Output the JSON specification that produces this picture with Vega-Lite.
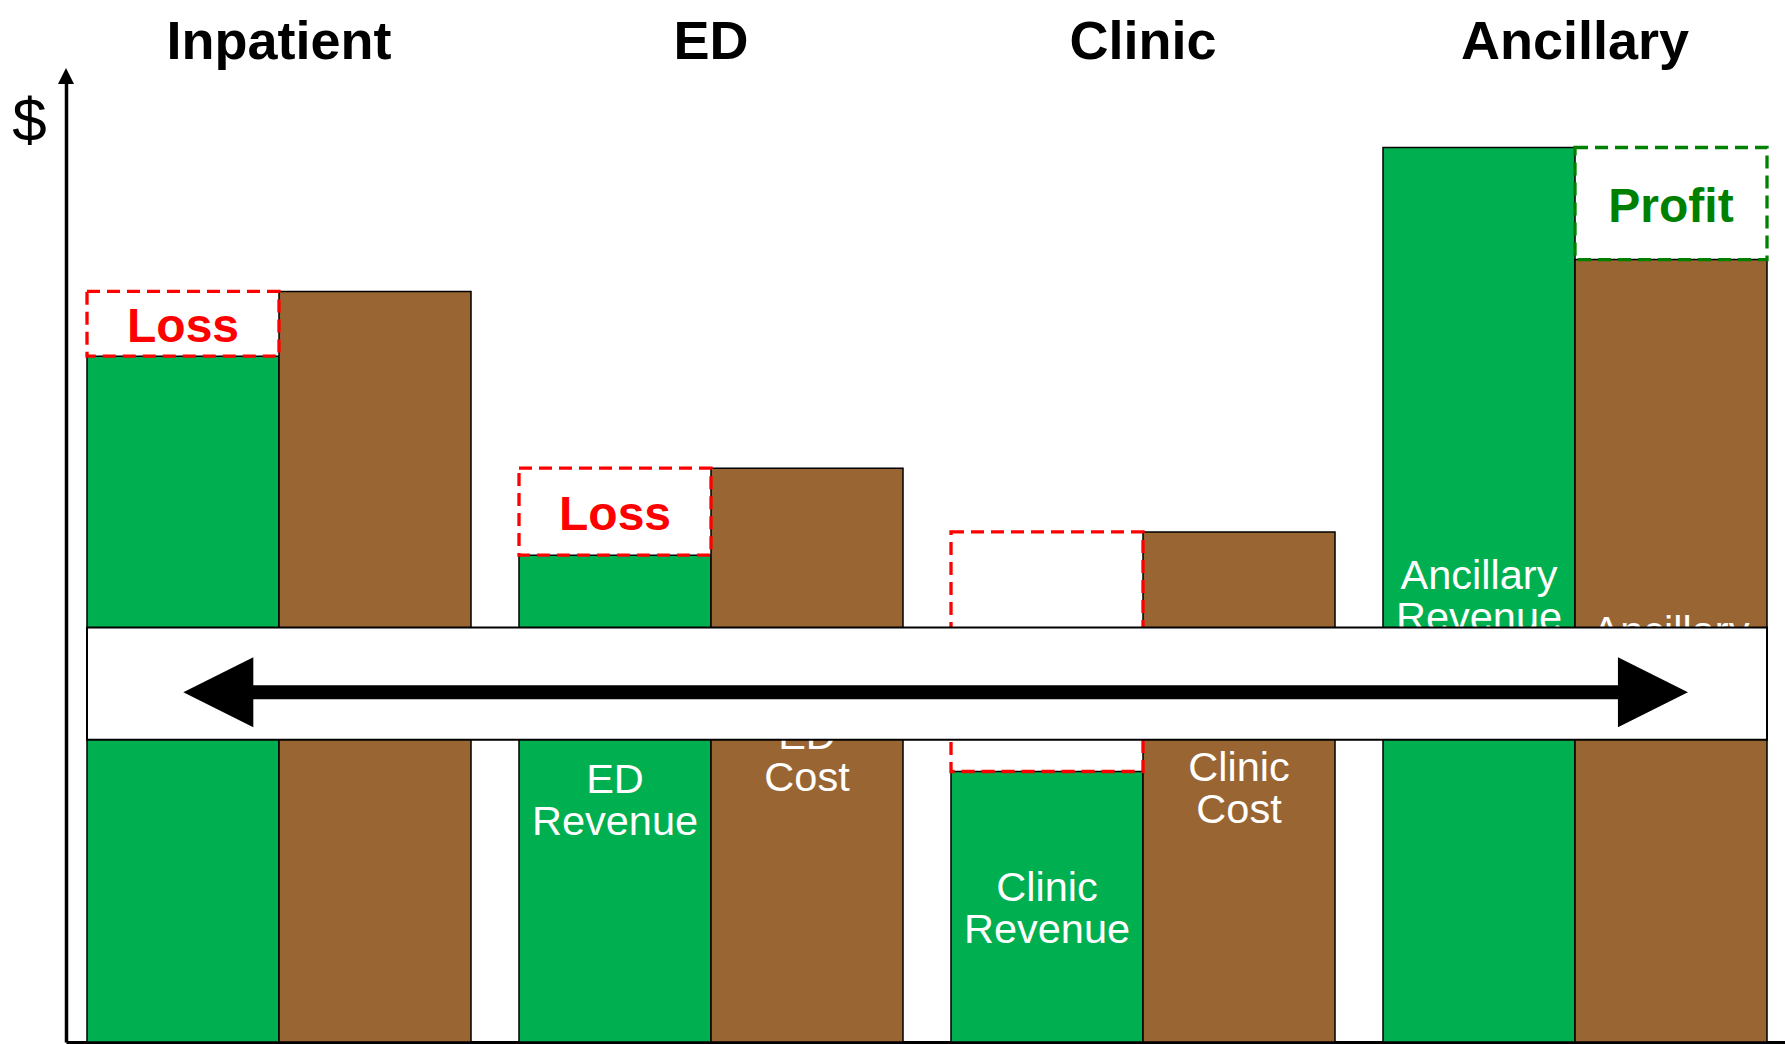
{
  "$schema": "https://vega.github.io/schema/vega-lite/v6.json",
  "width": 1719,
  "height": 966,
  "autosize": {"type": "none"},
  "padding": {"left": 66, "top": 76, "right": 0, "bottom": 2},
  "background": "white",
  "config": {"view": {"stroke": null}, "font": "Liberation Sans"},
  "datasets": {
    "finance": [
      {"unit": "Inpatient", "kind": "Revenue", "value": 71.0},
      {"unit": "Inpatient", "kind": "Cost", "value": 77.7},
      {"unit": "ED", "kind": "Revenue", "value": 50.4},
      {"unit": "ED", "kind": "Cost", "value": 59.4},
      {"unit": "Clinic", "kind": "Revenue", "value": 28.0},
      {"unit": "Clinic", "kind": "Cost", "value": 52.8},
      {"unit": "Ancillary", "kind": "Revenue", "value": 92.6},
      {"unit": "Ancillary", "kind": "Cost", "value": 81.0}
    ],
    "single": [{}]
  },
  "data": {"name": "finance"},
  "layer": [
    {
      "mark": {"type": "bar", "stroke": "black", "strokeWidth": 1.5},
      "encoding": {
        "x": {
          "field": "unit",
          "type": "nominal",
          "sort": null,
          "scale": {
            "domain": ["Inpatient", "ED", "Clinic", "Ancillary"],
            "paddingInner": 0.1111,
            "paddingOuter": 0.04514,
            "align": 0.5385
          },
          "axis": {
            "orient": "top",
            "title": null,
            "domain": false,
            "ticks": false,
            "tickSize": 0,
            "grid": false,
            "labelAngle": 0,
            "labelLimit": 600,
            "labelFont": "Liberation Sans",
            "labelFontSize": 54,
            "labelFontWeight": "bold",
            "labelColor": "black",
            "labelBaseline": "alphabetic",
            "labelPadding": 18
          }
        },
        "xOffset": {
          "field": "kind",
          "type": "nominal",
          "scale": {"domain": ["Revenue", "Cost"], "paddingInner": 0, "paddingOuter": 0}
        },
        "y": {
          "field": "value",
          "type": "quantitative",
          "scale": {"domain": [0, 100], "nice": false, "zero": true},
          "axis": {
            "orient": "left",
            "domain": true,
            "domainColor": "black",
            "domainWidth": 3.5,
            "ticks": false,
            "labels": false,
            "grid": false,
            "title": "$",
            "titleAngle": 0,
            "titleFont": "Liberation Sans",
            "titleFontSize": 62,
            "titleFontWeight": "normal",
            "titleColor": "black",
            "titleAlign": "center",
            "titleBaseline": "alphabetic",
            "titleX": -37,
            "titleY": 64
          }
        },
        "color": {
          "field": "kind",
          "type": "nominal",
          "scale": {"domain": ["Revenue", "Cost"], "range": ["#00B050", "#996633"]},
          "legend": null
        }
      }
    },
    {
      "transform": [
        {"calculate": "datum.unit + '\\n' + datum.kind", "as": "label"},
        {"calculate": "datum.value / 2", "as": "mid"}
      ],
      "mark": {
        "type": "text",
        "color": "white",
        "font": "Liberation Sans",
        "fontSize": 41.5,
        "lineHeight": 42,
        "lineBreak": "\n",
        "align": "center",
        "baseline": "middle",
        "dy": -18
      },
      "encoding": {
        "x": {
          "field": "unit",
          "type": "nominal",
          "axis": {
            "orient": "bottom",
            "title": null,
            "labels": false,
            "ticks": false,
            "tickSize": 0,
            "grid": false,
            "domain": true,
            "domainColor": "black",
            "domainWidth": 3
          }
        },
        "xOffset": {"field": "kind", "type": "nominal"},
        "y": {"field": "mid", "type": "quantitative"},
        "text": {"field": "label"}
      }
    },
    {
      "transform": [
        {"pivot": "kind", "value": "value", "groupby": ["unit"]},
        {"calculate": "datum.Revenue < datum.Cost ? 'Loss' : 'Profit'", "as": "result"},
        {"calculate": "datum.Revenue < datum.Cost ? 'Revenue' : 'Cost'", "as": "slot"},
        {"calculate": "(datum.Revenue + datum.Cost) / 2", "as": "mid"}
      ],
      "layer": [
        {
          "mark": {"type": "bar", "fillOpacity": 0, "strokeWidth": 3.3, "strokeDash": [13, 7]},
          "encoding": {
            "x": {"field": "unit", "type": "nominal", "axis": null},
            "xOffset": {"field": "slot", "type": "nominal"},
            "y": {"field": "Revenue", "type": "quantitative"},
            "y2": {"field": "Cost"},
            "stroke": {
              "field": "result",
              "type": "nominal",
              "scale": {"domain": ["Loss", "Profit"], "range": ["#FF0000", "#008000"]},
              "legend": null
            }
          }
        },
        {
          "mark": {
            "type": "text",
            "font": "Liberation Sans",
            "fontSize": 48,
            "fontWeight": "bold",
            "align": "center",
            "baseline": "middle",
            "dy": 4
          },
          "encoding": {
            "x": {"field": "unit", "type": "nominal", "axis": null},
            "xOffset": {"field": "slot", "type": "nominal"},
            "y": {"field": "mid", "type": "quantitative"},
            "text": {"field": "result"},
            "fill": {
              "field": "result",
              "type": "nominal",
              "scale": {"domain": ["Loss", "Profit"], "range": ["#FF0000", "#008000"]},
              "legend": null
            }
          }
        }
      ]
    },
    {
      "data": {"name": "single"},
      "mark": {"type": "rect", "fill": "white", "stroke": "black", "strokeWidth": 2},
      "encoding": {
        "x": {"datum": "Inpatient", "type": "nominal", "bandPosition": 0, "axis": null},
        "x2": {"datum": "Ancillary", "bandPosition": 1},
        "y": {"datum": 31.3, "type": "quantitative"},
        "y2": {"datum": 42.9}
      }
    },
    {
      "data": {"name": "single"},
      "mark": {"type": "rule", "color": "black", "strokeWidth": 14},
      "encoding": {
        "x": {"datum": "Inpatient", "type": "nominal", "bandPosition": 0.342, "axis": null},
        "x2": {"datum": "Ancillary", "bandPosition": 0.703},
        "y": {"datum": 36.2, "type": "quantitative"}
      }
    },
    {
      "data": {"name": "single"},
      "mark": {"type": "point", "shape": "M-1,0L1,-1L1,1Z", "filled": true, "color": "black", "opacity": 1, "size": 4900, "strokeWidth": 0},
      "encoding": {
        "x": {"datum": "Inpatient", "type": "nominal", "bandPosition": 0.342, "axis": null},
        "y": {"datum": 36.2, "type": "quantitative"}
      }
    },
    {
      "data": {"name": "single"},
      "mark": {"type": "point", "shape": "M1,0L-1,-1L-1,1Z", "filled": true, "color": "black", "opacity": 1, "size": 4900, "strokeWidth": 0},
      "encoding": {
        "x": {"datum": "Ancillary", "type": "nominal", "bandPosition": 0.703, "axis": null},
        "y": {"datum": 36.2, "type": "quantitative"}
      }
    },
    {
      "data": {"name": "single"},
      "mark": {"type": "point", "shape": "M0,-1L1,1L-1,1Z", "filled": true, "color": "black", "opacity": 1, "size": 256, "strokeWidth": 0, "clip": false},
      "encoding": {
        "x": {"value": 0},
        "y": {"datum": 100, "type": "quantitative"}
      }
    }
  ]
}
